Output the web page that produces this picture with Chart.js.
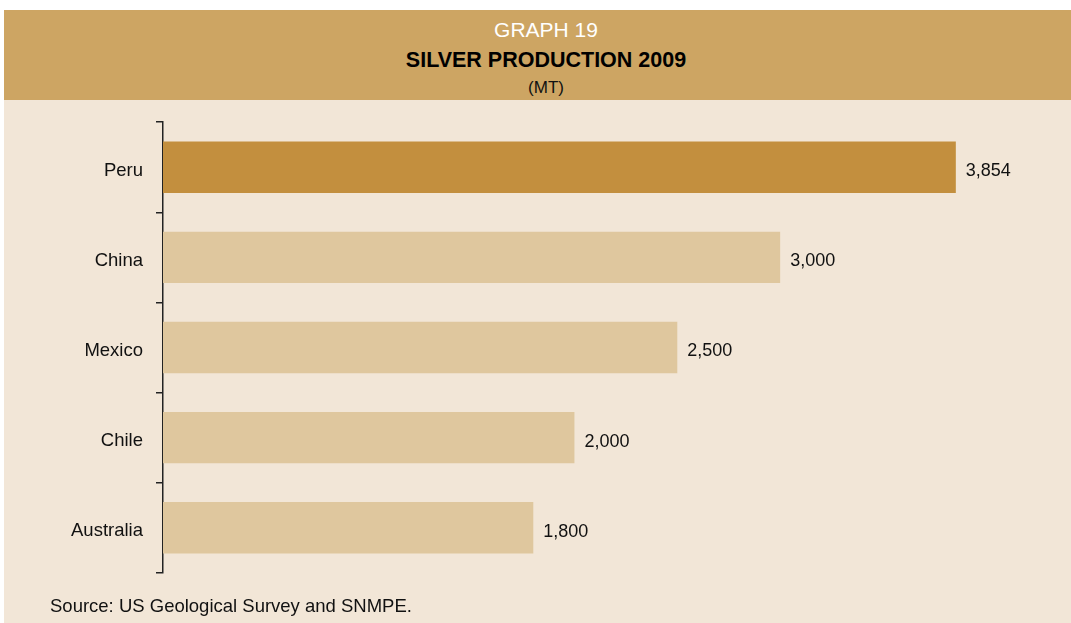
<!DOCTYPE html>
<html>
<head>
<meta charset="utf-8">
<script src="https://cdn.jsdelivr.net/npm/chart.js@4.4.0/dist/chart.umd.min.js"></script>
<style>
  body { margin: 0; background: #fff; font-family: "Liberation Sans", Arial, sans-serif; }
  #page { position: relative; width: 1071px; height: 623px; overflow: hidden; }
  #body { position: absolute; left: 4px; top: 100px; width: 1084px; height: 523px; background: #F2E6D7; }
  #head { position: absolute; left: 4px; top: 10px; width: 1084px; height: 90px; background: #CDA563; text-align: center; }
  .t { position: absolute; left: 0; width: 1084px; text-align: center; }
  .t1 { top: 8px; font-size: 21px; color: #fff; line-height: 24px; }
  .t2 { top: 38px; font-size: 21.5px; font-weight: bold; color: #000; line-height: 24px; }
  .t3 { top: 68px; font-size: 17px; color: #111; line-height: 20px; }
  #wrap { position: absolute; left: 0; top: 98px; width: 1071px; height: 499px; }
  #source { position: absolute; left: 50px; top: 595px; font-size: 18.5px; color: #111; }
</style>
</head>
<body>
<div id="page">
  <div id="body"></div>
  <div id="head">
    <div class="t t1">GRAPH 19</div>
    <div class="t t2">SILVER PRODUCTION 2009</div>
    <div class="t t3">(MT)</div>
  </div>
  <div id="wrap"><canvas id="mycanvas"></canvas></div>
  <div id="source">Source: US Geological Survey and SNMPE.</div>
</div>
<script>
var countries = ['Peru', 'China', 'Mexico', 'Chile', 'Australia'];
var production = [3854, 3000, 2500, 2000, 1800];
var barColors = ['#C38F3E', '#DFC79E', '#DFC79E', '#DFC79E', '#DFC79E'];

// value labels right of each bar
var valueLabels = {
  id: 'valueLabels',
  afterDatasetsDraw: function(chart) {
    var ctx = chart.ctx;
    var meta = chart.getDatasetMeta(0);
    ctx.save();
    ctx.font = '18px "Liberation Sans", Arial, sans-serif';
    ctx.fillStyle = '#111';
    ctx.textBaseline = 'middle';
    meta.data.forEach(function(bar, i) {
      ctx.fillText(production[i].toLocaleString('en-US'), bar.x + 10, bar.y + 4);
    });
    ctx.restore();
  }
};

var ctx = document.getElementById('mycanvas');
var barGraph = new Chart(ctx, {
  type: 'bar',
  data: {
    labels: countries,
    datasets: [{
      data: production,
      backgroundColor: barColors,
      borderWidth: 0,
      categoryPercentage: 1,
      barPercentage: 0.57
    }]
  },
  options: {
    indexAxis: 'y',
    responsive: true,
    maintainAspectRatio: false,
    animation: false,
    layout: { padding: { top: 21, bottom: 11, right: 44, left: 0 } },
    plugins: { legend: { display: false }, tooltip: { enabled: false } },
    scales: {
      x: {
        display: false,
        min: 0,
        max: 4200
      },
      y: {
        afterFit: function(scale) { scale.width = 163; },
        border: { display: true, color: '#222', width: 1.5 },
        grid: { offset: true, drawOnChartArea: false, tickLength: 7, color: '#222', lineWidth: 1.5 },
        ticks: {
          padding: 13,
          labelOffset: 3.5,
          color: '#111',
          font: { family: '"Liberation Sans", Arial, sans-serif', size: 18.5 }
        }
      }
    }
  },
  plugins: [valueLabels]
});
</script>
</body>
</html>
